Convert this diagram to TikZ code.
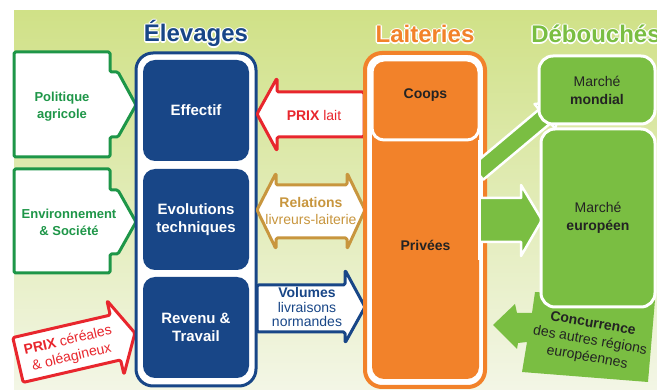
\documentclass[tikz,border=0pt]{standalone}
\usepackage{fontspec}
\setmainfont{Liberation Sans}
\definecolor{cblue}{RGB}{24,70,135}
\definecolor{corange}{RGB}{242,130,42}
\definecolor{cgreen}{RGB}{122,190,66}
\definecolor{cdgreen}{RGB}{30,150,72}
\definecolor{cred}{RGB}{232,38,45}
\definecolor{cgold}{RGB}{200,150,62}
\definecolor{ctext}{RGB}{35,35,35}
\definecolor{bgtop}{RGB}{208,225,135}
\definecolor{bgbot}{RGB}{243,246,230}
\newcommand\halotitle[4]{%
  \foreach \a in {0,45,...,315} \node[ttl, text=white] at ([shift={(\a:1.4)}]#2) {#4};
  \node[ttl, text=#3] (#1) at (#2) {#4};}
\tikzset{
 box/.style={rounded corners=12pt, inner sep=0pt, align=center},
 elevbox/.style={box, fill=cblue, text=white, minimum width=106pt, minimum height=101pt, font=\fontsize{15}{18}\selectfont\bfseries},
 debbox/.style={box, rounded corners=14pt, fill=cgreen, draw=white, line width=3pt, text=ctext, font=\fontsize{14}{18}\selectfont},
 ttl/.style={font=\fontsize{24}{28}\selectfont\bfseries, anchor=base},
 atext/.style={align=center, inner sep=0pt},
 blockarrow/.style={line width=3pt, fill=white, rounded corners=1.5pt, line join=round},
 greenarrow/.style={fill=cgreen, draw=white, line width=2.5pt, line join=round},
}
\begin{document}
\begin{tikzpicture}[x=1pt,y=-1pt]
\useasboundingbox (0,0) rectangle (657,390);
\fill[white] (0,0) rectangle (657,390);
\shade[top color=bgtop, bottom color=bgbot] (14,11) rectangle (657,390);

% titles
\halotitle{telev}{196,42}{cblue}{Élevages}
\halotitle{tlait}{425,43}{corange}{Laiteries}
\halotitle{tdeb}{596,43}{cgreen}{Débouchés}

% left green arrows
\draw[blockarrow, draw=cdgreen] (14,52) -- (110,52) -- (110,72) -- (118,72) -- (136,105) -- (118,137) -- (110,137) -- (110,157) -- (14,157) -- cycle;
\node[atext, text=cdgreen, font=\fontsize{13}{17}\selectfont\bfseries] (polit) at (62,107) {Politique\\agricole};
\draw[blockarrow, draw=cdgreen] (14,169) -- (110,169) -- (110,190) -- (118,190) -- (136,222) -- (118,254) -- (110,254) -- (110,273) -- (14,273) -- cycle;
\node[atext, text=cdgreen, font=\fontsize{13}{17}\selectfont\bfseries] (envir) at (69,222) {Environnement\\\& Société};

% red PRIX cereales arrow
\begin{scope}[shift={(18,360)}, rotate=13]
\draw[blockarrow, draw=cred] (0,-23) -- (100,-23) -- (100,-38) -- (120,0) -- (100,38) -- (100,23) -- (0,23) -- cycle;
\node[atext, text=cred, rotate=13, font=\fontsize{14}{17}\selectfont] (prixcer) at (53,1) {\textbf{PRIX} céréales\\\& oléagineux};
\end{scope}

% Elevages
\node[box, rounded corners=17pt, draw=cblue, fill=white, line width=3pt, minimum width=120pt, minimum height=333pt] (elev) at (196,219.5) {};
\node[elevbox] (eff) at (196,110.5) {Effectif};
\node[elevbox] (evol) at (196,219.5) {Evolutions\\techniques};
\node[elevbox] (rev) at (196,327.5) {Revenu \&\\Travail};

% middle arrows
\draw[blockarrow, draw=cred] (364,92) -- (277,92) -- (277,78) -- (257,114) -- (277,151) -- (277,137) -- (364,137) -- cycle;
\node[atext, text=cred, font=\fontsize{14}{17}\selectfont] (prixlait) at (314,115) {\textbf{PRIX} lait};
\draw[blockarrow, draw=cgold] (257,210) -- (276,173) -- (276,185) -- (347,185) -- (347,173) -- (365,210) -- (347,249) -- (347,238) -- (276,238) -- (276,249) -- cycle;
\node[atext, text=cgold, font=\fontsize{14}{17}\selectfont] (relat) at (311,211) {\textbf{Relations}\\livreurs-laiterie};
\draw[blockarrow, draw=cblue] (257,285) -- (345,285) -- (345,270) -- (365,307) -- (345,343) -- (345,332) -- (257,332) -- cycle;
\node[atext, text=cblue, font=\fontsize{14}{14.5}\selectfont] (volum) at (307,307) {\textbf{Volumes}\\livraisons\\normandes};

% Laiteries
\node[box, rounded corners=17pt, draw=corange, fill=white, line width=4pt, minimum width=120pt, minimum height=334pt] (lait) at (425,220) {};
\node[box, fill=corange, minimum width=107pt, minimum height=319pt] (priv) at (425.5,219.5) {};
\node[box, fill=corange, draw=white, line width=3pt, minimum width=107pt, minimum height=80pt] (coops) at (425.5,100) {};
\node[atext, text=ctext, font=\fontsize{14}{17}\selectfont\bfseries] (coopst) at (425.5,95) {Coops};
\node[atext, text=ctext, font=\fontsize{14}{17}\selectfont\bfseries] (privt) at (425.5,245) {Privées};

% green arrows out of Laiteries
\begin{scope}
\clip (481,0) rectangle (657,390);
\begin{scope}[shift={(482,169)}, rotate=40]
\draw[greenarrow] (-6,-9) -- (82,-9) -- (82,-16) -- (106,0) -- (82,16) -- (82,9) -- (-6,9) -- cycle;
\end{scope}
\draw[greenarrow] (478,198) -- (521,198) -- (521,185) -- (542,220) -- (521,256) -- (521,242) -- (478,242) -- cycle;
\end{scope}
\draw[white, line width=3pt] (479.5,140) -- (479.5,260);

% concurrence
\fill[cgreen] (535,292) -- (655,300) -- (648,382) -- (522,372) -- (527,342) -- (518,343) -- (517,349) -- (493,325) -- (515,304) -- (517,313) -- (532,313) -- cycle;
\node[atext, text=ctext, rotate=-10, font=\fontsize{14}{17}\selectfont] (concur) at (590,341) {\textbf{Concurrence}\\des autres régions\\européennes};

% Debouches boxes
\node[debbox, minimum width=116pt, minimum height=68pt] (mond) at (597,90) {Marché\\\textbf{mondial}};
\node[debbox, minimum width=114pt, minimum height=178pt] (europ) at (598,218) {Marché\\\textbf{européen}};
\end{tikzpicture}
\end{document}
